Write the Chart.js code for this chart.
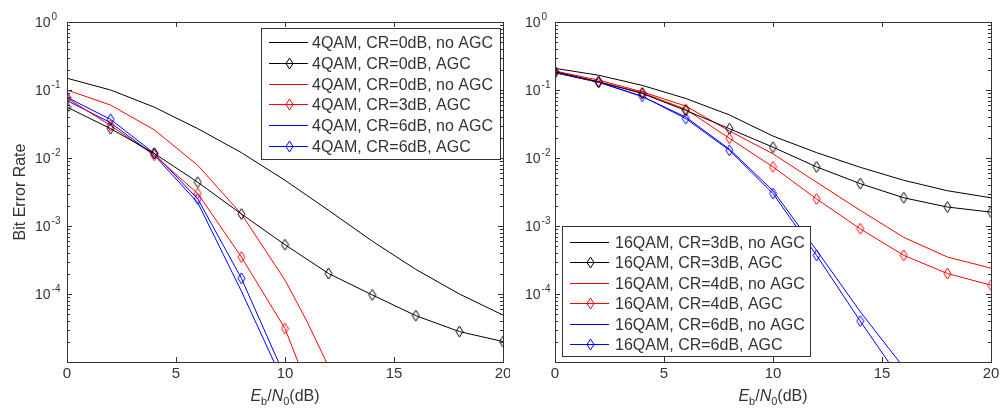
<!DOCTYPE html>
<html>
<head>
<meta charset="utf-8">
<script src="https://cdn.jsdelivr.net/npm/chart.js@4.4.1/dist/chart.umd.min.js"></script>
<style>
  body { margin: 0; background: #fff; }
  .wrap { position: relative; width: 1001px; height: 410px; }
  canvas { position: absolute; top: 0; }
</style>
</head>
<body>
<div class="wrap">
  <canvas id="qam4Chart" width="510" height="410" style="left:0"></canvas>
  <canvas id="qam16Chart" width="491" height="410" style="left:510px"></canvas>
</div>
<script>
// Eb/N0 grid (dB) where the AGC curves carry markers
const snr = [0, 2, 4, 6, 8, 10, 12, 14, 16, 18, 20];
const xTicks = [0, 5, 10, 15, 20];
const yTickExps = [0, -1, -2, -3, -4];

// left panel: 4QAM
const qam4Cr0NoAgc = [0.149, 0.100, 0.056, 0.027, 0.012, 0.0047, 0.0017, 6.0e-4, 2.3e-4, 1.0e-4, 4.9e-5];
const qam4Cr0Agc = [0.056, 0.027, 0.0117, 0.0044, 0.0015, 5.3e-4, 2.0e-4, 9.7e-5, 4.8e-5, 2.8e-5, 2.0e-5];
const qam4RedNoAgcX = [0, 2, 4, 6, 8, 10, 11, 11.9];
const qam4RedNoAgc = [0.100, 0.060, 0.026, 0.0078, 0.0015, 1.6e-4, 4.0e-5, 1e-5];
const qam4Cr3AgcX = [0, 2, 4, 6, 8, 10, 10.6];
const qam4Cr3Agc = [0.076, 0.030, 0.011, 0.0030, 3.5e-4, 3.1e-5, 1e-5];
const qam4Cr6NoAgcX = [0, 2, 4, 6, 8, 9.5];
const qam4Cr6NoAgc = [0.070, 0.033, 0.011, 0.0022, 1.1e-4, 1e-5];
const qam4Cr6AgcX = [0, 2, 4, 6, 8, 9.7];
const qam4Cr6Agc = [0.078, 0.037, 0.0117, 0.0025, 1.7e-4, 1e-5];

// right panel: 16QAM
const qam16Cr3NoAgc = [0.208, 0.165, 0.117, 0.075, 0.043, 0.021, 0.012, 0.0073, 0.0047, 0.0033, 0.0026];
const qam16Cr3Agc = [0.185, 0.132, 0.089, 0.050, 0.027, 0.0144, 0.0074, 0.0042, 0.0026, 0.0019, 0.0016];
const qam16Cr4NoAgc = [0.190, 0.140, 0.094, 0.058, 0.025, 0.0115, 0.0044, 0.0017, 6.8e-4, 3.5e-4, 2.4e-4];
const qam16Cr4Agc = [0.185, 0.132, 0.091, 0.052, 0.0195, 0.0074, 0.0025, 9.1e-4, 3.7e-4, 2.0e-4, 1.35e-4];
const qam16Cr6NoAgcX = [0, 2, 4, 6, 8, 10, 12, 14, 15.8];
const qam16Cr6NoAgc = [0.180, 0.130, 0.080, 0.040, 0.0135, 0.0033, 4.4e-4, 5.5e-5, 1e-5];
const qam16Cr6AgcX = [0, 2, 4, 6, 8, 10, 12, 14, 15.3];
const qam16Cr6Agc = [0.180, 0.130, 0.081, 0.038, 0.013, 0.0030, 3.7e-4, 4.0e-5, 1e-5];

const black = "#000000";
const red = "#ff0000";
const blue = "#0000ff";
const axisColor = "#333333";
const font = "'Liberation Sans', Arial, sans-serif";

function diamond(color) {
  const c = document.createElement("canvas");
  c.width = 9;
  c.height = 13;
  const g = c.getContext("2d");
  g.strokeStyle = color;
  g.lineWidth = 1;
  g.beginPath();
  g.moveTo(4.5, 1);
  g.lineTo(8, 6.5);
  g.lineTo(4.5, 12);
  g.lineTo(1, 6.5);
  g.closePath();
  g.stroke();
  return c;
}

function series(label, xs, ys, color, agc) {
  return {
    label,
    data: xs.map((x, i) => ({ x, y: ys[i] })),
    borderColor: color,
    borderWidth: 1,
    fill: false,
    tension: 0,
    pointStyle: agc ? diamond(color) : false,
    pointRadius: agc ? (c) => (Number.isInteger(c.raw.x) ? 4 : 0) : 0,
    pointHoverRadius: 0,
  };
}

function richText(ctx, parts, cx, baseline) {
  let total = 0;
  parts.forEach((p) => {
    ctx.font = `${p[1]} ${p[2]}px ${font}`;
    total += ctx.measureText(p[0]).width;
  });
  let x = cx - total / 2;
  ctx.textAlign = "left";
  ctx.textBaseline = "alphabetic";
  parts.forEach((p) => {
    ctx.font = `${p[1]} ${p[2]}px ${font}`;
    ctx.fillText(p[0], x, baseline + p[3]);
    x += ctx.measureText(p[0]).width;
  });
}

const xTitleParts = [
  ["E", "italic", 16, 0], ["b", "normal", 11, 4], ["/", "normal", 16, 0],
  ["N", "italic", 16, 0], ["0", "normal", 11, 4], ["(dB)", "normal", 16, 0],
];

// MATLAB-style box, inward ticks, superscript labels and boxed legend
const matlabAxes = {
  id: "matlabAxes",
  afterDraw(chart, args, opts) {
    const { ctx, chartArea: a } = chart;
    const xs = chart.scales.x;
    const ys = chart.scales.y;
    ctx.save();
    ctx.strokeStyle = axisColor;
    ctx.lineWidth = 1;
    ctx.beginPath();
    for (let e = -5; e <= 0; e++) {
      for (let m = 1; m <= 9; m++) {
        const v = m * Math.pow(10, e);
        if (v < ys.min || v > ys.max) continue;
        const py = Math.round(ys.getPixelForValue(v)) + 0.5;
        const len = m === 1 ? 5 : 3;
        ctx.moveTo(a.left, py); ctx.lineTo(a.left + len, py);
        ctx.moveTo(a.right, py); ctx.lineTo(a.right - len, py);
      }
    }
    xTicks.forEach((t) => {
      const px = Math.round(xs.getPixelForValue(t)) + 0.5;
      ctx.moveTo(px, a.top); ctx.lineTo(px, a.top + 5);
      ctx.moveTo(px, a.bottom); ctx.lineTo(px, a.bottom - 5);
    });
    ctx.stroke();
    ctx.strokeRect(Math.round(a.left) + 0.5, Math.round(a.top) + 0.5, Math.round(a.width), Math.round(a.height));

    ctx.fillStyle = axisColor;
    yTickExps.forEach((e) => {
      const py = ys.getPixelForValue(Math.pow(10, e));
      const x0 = a.left - opts.yLabelGap;
      ctx.font = `14px ${font}`;
      ctx.textAlign = "left";
      ctx.textBaseline = "middle";
      ctx.fillText("10", x0, py + 1);
      const w = ctx.measureText("10").width;
      ctx.font = `10px ${font}`;
      ctx.textBaseline = "alphabetic";
      ctx.fillText(String(e), x0 + w + 1, py - 2);
    });
    ctx.font = `15px ${font}`;
    ctx.textAlign = "center";
    ctx.textBaseline = "middle";
    xTicks.forEach((t) => ctx.fillText(String(t), xs.getPixelForValue(t), 374));
    richText(ctx, xTitleParts, (a.left + a.right) / 2, 401);

    if (opts.yTitle) {
      ctx.save();
      ctx.translate(25, (a.top + a.bottom) / 2);
      ctx.rotate(-Math.PI / 2);
      ctx.font = `16px ${font}`;
      ctx.textAlign = "center";
      ctx.textBaseline = "alphabetic";
      ctx.fillText(opts.yTitle, 0, 0);
      ctx.restore();
    }

    const lg = opts.legend;
    ctx.fillStyle = "#fff";
    ctx.fillRect(lg.x, lg.y, lg.w, lg.h);
    ctx.strokeStyle = axisColor;
    ctx.strokeRect(lg.x + 0.5, lg.y + 0.5, lg.w, lg.h);
    chart.data.datasets.forEach((ds, i) => {
      const y = Math.round(lg.y + lg.first + i * lg.gap) + 0.5;
      ctx.strokeStyle = ds.borderColor;
      ctx.beginPath();
      ctx.moveTo(lg.x + 8, y);
      ctx.lineTo(lg.x + 47, y);
      ctx.stroke();
      if (ds.pointStyle) {
        const mk = ds.pointStyle;
        ctx.drawImage(mk, Math.round(lg.x + 28 - mk.width / 2), Math.round(y - mk.height / 2));
      }
      ctx.fillStyle = axisColor;
      ctx.font = `16px ${font}`;
      ctx.textAlign = "left";
      ctx.textBaseline = "middle";
      ctx.fillText(ds.label, lg.x + lg.textX, y + 1);
    });
    ctx.restore();
  },
};

function makePanel(id, datasets, yWidth, padRight, extra) {
  return new Chart(document.getElementById(id), {
    type: "line",
    data: { datasets },
    options: {
      responsive: false,
      animation: false,
      events: [],
      layout: { padding: { top: 22, right: padRight, left: 0, bottom: 0 } },
      scales: {
        x: {
          type: "linear", min: 0, max: 20,
          ticks: { display: false }, grid: { display: false }, border: { display: false },
          afterFit: (s) => { s.height = 48; },
        },
        y: {
          type: "logarithmic", min: 1e-5, max: 1,
          ticks: { display: false }, grid: { display: false }, border: { display: false },
          afterFit: (s) => { s.width = yWidth; },
        },
      },
      plugins: { legend: { display: false }, tooltip: { enabled: false }, matlabAxes: extra },
    },
    plugins: [matlabAxes],
  });
}

makePanel("qam4Chart", [
  series("4QAM, CR=0dB, no AGC", snr, qam4Cr0NoAgc, black, false),
  series("4QAM, CR=0dB, AGC", snr, qam4Cr0Agc, black, true),
  series("4QAM, CR=0dB, no AGC", qam4RedNoAgcX, qam4RedNoAgc, red, false),
  series("4QAM, CR=3dB, AGC", qam4Cr3AgcX, qam4Cr3Agc, red, true),
  series("4QAM, CR=6dB, no AGC", qam4Cr6NoAgcX, qam4Cr6NoAgc, blue, false),
  series("4QAM, CR=6dB, AGC", qam4Cr6AgcX, qam4Cr6Agc, blue, true),
], 67, 7, {
  yLabelGap: 32,
  yTitle: "Bit Error Rate",
  legend: { x: 261, y: 28, w: 239, h: 131, first: 14, gap: 20.8, textX: 51 },
});

makePanel("qam16Chart", [
  series("16QAM, CR=3dB, no AGC", snr, qam16Cr3NoAgc, black, false),
  series("16QAM, CR=3dB, AGC", snr, qam16Cr3Agc, black, true),
  series("16QAM, CR=4dB, no AGC", snr, qam16Cr4NoAgc, red, false),
  series("16QAM, CR=4dB, AGC", snr, qam16Cr4Agc, red, true),
  series("16QAM, CR=6dB, no AGC", qam16Cr6NoAgcX, qam16Cr6NoAgc, blue, false),
  series("16QAM, CR=6dB, AGC", qam16Cr6AgcX, qam16Cr6Agc, blue, true),
], 45, 10, {
  yLabelGap: 30,
  yTitle: null,
  legend: { x: 52, y: 226, w: 248, h: 130, first: 15.7, gap: 20.5, textX: 53 },
});
</script>
</body>
</html>
